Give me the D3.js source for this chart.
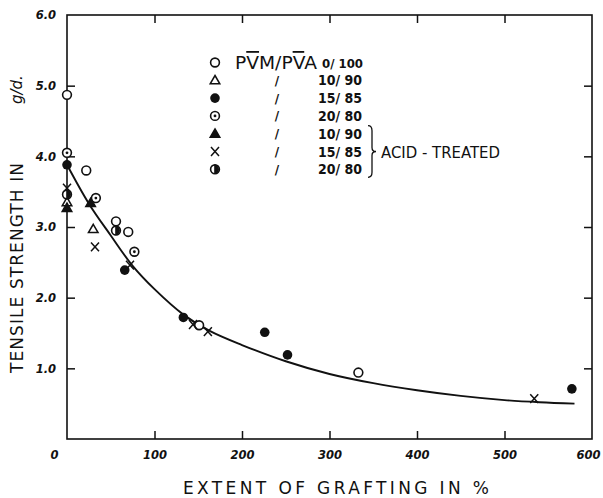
<!DOCTYPE html>
<html>
<head>
<meta charset="utf-8">
<script src="https://cdn.jsdelivr.net/npm/d3@7/dist/d3.min.js"></script>
<style>
  body { margin: 0; background: #fff; }
  svg { display: block; }
</style>
</head>
<body>
<svg id="chart" width="603" height="498"></svg>
<script>
// Axis ticks and labels
const xTickValues = [0, 100, 200, 300, 400, 500, 600];
const xTickLabels = ["0", "100", "200", "300", "400", "500", "600"];
const yTickValues = [1, 2, 3, 4, 5, 6];
const yTickLabels = ["1.0", "2.0", "3.0", "4.0", "5.0", "6.0"];

// Legend: symbol kind and PVM/PVA ratio for each series
const seriesSymbols = ["open", "tri", "fill", "dot", "triFill", "cross", "half"];
const seriesRatios = ["0/ 100", "10/ 90", "15/ 85", "20/ 80", "10/ 90", "15/ 85", "20/ 80"];

// Extent of grafting (%) and tensile strength (g/d) per series
const pvm0x = [0, 22, 56, 70, 151, 333];
const pvm0y = [4.87, 3.80, 3.08, 2.93, 1.61, 0.94];
const pvm10x = [0, 30];
const pvm10y = [3.35, 2.97];
const pvm15x = [0, 66, 133, 226, 252, 577];
const pvm15y = [3.88, 2.39, 1.72, 1.51, 1.19, 0.71];
const pvm20x = [0, 33, 77];
const pvm20y = [4.05, 3.41, 2.65];
const acid10x = [0, 27];
const acid10y = [3.27, 3.34];
const acid15x = [0, 32, 72, 144, 161, 534];
const acid15y = [3.55, 2.72, 2.46, 1.62, 1.52, 0.57];
const acid20x = [0, 56];
const acid20y = [3.46, 2.95];

// Smoothed trend curve
const curveX = [0, 25, 50, 75, 100, 133, 163, 200, 250, 300, 350, 400, 450, 500, 540, 580];
const curveY = [3.88, 3.33, 2.88, 2.45, 2.12, 1.76, 1.53, 1.33, 1.10, 0.92, 0.79, 0.69, 0.61, 0.55, 0.52, 0.50];

const seriesX = [pvm0x, pvm10x, pvm15x, pvm20x, acid10x, acid15x, acid20x];
const seriesY = [pvm0y, pvm10y, pvm15y, pvm20y, acid10y, acid15y, acid20y];

const W = 603, H = 498;
const m = { left: 67, right: 11, top: 15, bottom: 59 };
const iw = W - m.left - m.right, ih = H - m.top - m.bottom;

const svg = d3.select("#chart");
const g = svg.append("g").attr("transform", `translate(${m.left},${m.top})`);

const x = d3.scaleLinear().domain([0, 600]).range([0, iw]);
const y = d3.scaleLinear().domain([0, 6]).range([ih, 0]);

const ink = "#111";
const tickFont = "bold italic 11.5px 'DejaVu Sans', sans-serif";

// Frame
g.append("rect").attr("width", iw).attr("height", ih)
  .attr("fill", "none").attr("stroke", ink).attr("stroke-width", 1.6);

// Axes with inward ticks
const axLeft = g.append("g").call(d3.axisLeft(y).tickValues(yTickValues)
  .tickSize(-8).tickPadding(11).tickFormat((d, i) => yTickLabels[i]));
const axRight = g.append("g").attr("transform", `translate(${iw},0)`)
  .call(d3.axisRight(y).tickValues(yTickValues.slice(0, 5)).tickSize(-8).tickFormat(""));
const axBottom = g.append("g").attr("transform", `translate(0,${ih})`)
  .call(d3.axisBottom(x).tickValues(xTickValues).tickSize(-8).tickPadding(12)
    .tickFormat((d, i) => xTickLabels[i]));
const axTop = g.append("g").call(d3.axisTop(x).tickValues(xTickValues.slice(1, 6))
  .tickSize(-8).tickFormat(""));

[axLeft, axRight, axBottom, axTop].forEach(a => {
  a.select(".domain").remove();
  a.selectAll(".tick line").attr("stroke", ink).attr("stroke-width", 1.5);
  a.selectAll(".tick text").style("font", tickFont).attr("fill", ink);
});
axLeft.selectAll(".tick").filter(d => d === 6).select("line").remove();
axBottom.selectAll(".tick").filter(d => d === 0 || d === 600).select("line").remove();
axBottom.selectAll(".tick").filter(d => d === 0).select("text").attr("dx", -13);
axBottom.selectAll(".tick").filter(d => d === 600).select("text").attr("dx", -4);

// Trend curve
const trend = d3.line().x(d => x(d[0])).y(d => y(d[1])).curve(d3.curveCatmullRom.alpha(0.5));
g.append("path").datum(d3.zip(curveX, curveY)).attr("d", trend)
  .attr("fill", "none").attr("stroke", ink).attr("stroke-width", 1.9);

// Marker drawing
const R = 4.4;
function drawSymbol(sel, kind) {
  if (kind === "open") {
    sel.append("circle").attr("r", R).attr("fill", "#fff").attr("stroke", ink).attr("stroke-width", 1.6);
  } else if (kind === "fill") {
    sel.append("circle").attr("r", R + 0.4).attr("fill", ink);
  } else if (kind === "dot") {
    sel.append("circle").attr("r", R).attr("fill", "#fff").attr("stroke", ink).attr("stroke-width", 1.6);
    sel.append("circle").attr("r", 1.4).attr("fill", ink);
  } else if (kind === "tri" || kind === "triFill") {
    sel.append("path").attr("d", "M0,-4.8L4.8,3.5L-4.8,3.5Z")
      .attr("fill", kind === "tri" ? "#fff" : ink).attr("stroke", ink)
      .attr("stroke-width", 1.5).attr("stroke-linejoin", "miter");
  } else if (kind === "cross") {
    sel.append("path").attr("d", "M-4,-4.4L4,4.4M4,-4.4L-4,4.4")
      .attr("stroke", ink).attr("stroke-width", 1.5).attr("fill", "none");
  } else if (kind === "half") {
    sel.append("circle").attr("r", R).attr("fill", "#fff").attr("stroke", ink).attr("stroke-width", 1.6);
    const r2 = R + 0.4;
    sel.append("path").attr("d", `M-0.8,${-r2}A${r2},${r2} 0 0 1 -0.8,${r2}Z`).attr("fill", ink);
  }
}

// Data points
seriesSymbols.forEach((kind, s) => {
  const pts = d3.zip(seriesX[s], seriesY[s]);
  g.append("g").selectAll("g").data(pts).join("g")
    .attr("transform", d => `translate(${x(d[0])},${y(d[1])})`)
    .each(function () { drawSymbol(d3.select(this), kind); });
});

// Legend
const lg = svg.append("g");
const rowY = i => 62.5 + i * 17.8;
const txtFont = "'DejaVu Sans', sans-serif";
seriesSymbols.forEach((kind, i) => {
  const row = lg.append("g");
  drawSymbol(row.append("g").attr("transform", `translate(215,${rowY(i)})`), kind);
  if (i > 0) {
    row.append("text").attr("x", 277).attr("y", rowY(i) + 4.5)
      .attr("text-anchor", "middle").style("font", `bold 12px ${txtFont}`)
      .attr("fill", ink).text("/");
  }
  row.append("text").attr("x", i === 0 ? 322 : 318).attr("y", rowY(i) + 5)
    .attr("textLength", i === 0 ? 41 : 44).attr("lengthAdjust", "spacingAndGlyphs")
    .style("font", `600 ${i === 0 ? 12 : 14}px ${txtFont}`).attr("fill", ink)
    .text(seriesRatios[i]);
});
const head = lg.append("text").attr("x", 235).attr("y", rowY(0) + 6.5)
  .attr("textLength", 82).attr("lengthAdjust", "spacingAndGlyphs")
  .style("font", `18px ${txtFont}`).attr("fill", ink);
head.append("tspan").text("P");
head.append("tspan").style("text-decoration", "overline").text("V");
head.append("tspan").text("M/P");
head.append("tspan").style("text-decoration", "overline").text("V");
head.append("tspan").text("A");

// Brace grouping the acid-treated rows
const by0 = rowY(4) - 8, by1 = rowY(6) + 8, bm = (by0 + by1) / 2, bx = 368;
lg.append("path")
  .attr("d", `M${bx},${by0}Q${bx + 4},${by0} ${bx + 4},${by0 + 5}L${bx + 4},${bm - 4}Q${bx + 4},${bm} ${bx + 8},${bm}` +
             `Q${bx + 4},${bm} ${bx + 4},${bm + 4}L${bx + 4},${by1 - 5}Q${bx + 4},${by1} ${bx},${by1}`)
  .attr("fill", "none").attr("stroke", ink).attr("stroke-width", 1.3);
lg.append("text").attr("x", 381).attr("y", rowY(5) + 6)
  .attr("textLength", 119).attr("lengthAdjust", "spacingAndGlyphs")
  .style("font", `15px ${txtFont}`).attr("fill", ink).text("ACID - TREATED");

// Axis titles
svg.append("text").attr("x", 183).attr("y", 494)
  .attr("textLength", 306).attr("lengthAdjust", "spacing")
  .style("font", `17px ${txtFont}`).attr("fill", ink)
  .text("EXTENT  OF  GRAFTING  IN  %");
svg.append("text").attr("transform", "translate(23,373) rotate(-90)")
  .attr("textLength", 210).attr("lengthAdjust", "spacing")
  .style("font", `17px ${txtFont}`).attr("fill", ink)
  .text("TENSILE  STRENGTH  IN");
svg.append("text").attr("transform", "translate(22,104) rotate(-90)")
  .style("font", `italic 15px ${txtFont}`).attr("fill", ink).text("g/d.");
</script>
</body>
</html>
